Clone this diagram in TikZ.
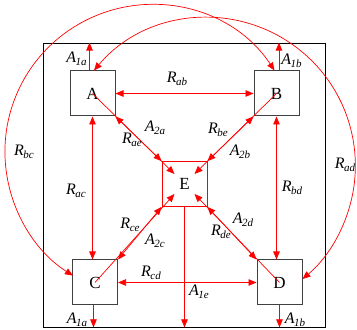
\documentclass[tikz,border=0pt]{standalone}
\usepackage{fontspec}
\setmainfont{Liberation Serif}
\usepackage{tikz}
\usetikzlibrary{arrows.meta, calc}

\newcommand{\symlab}[2]{\textit{#1}\kern-0.5pt\raisebox{-0.4ex}{\fontsize{11}{11}\selectfont\textit{#2}}}

\begin{document}
\begin{tikzpicture}[
    x=1pt, y=1pt,
    box/.style={draw=black!75, line width=1pt, minimum size=45pt, inner sep=0pt, font=\fontsize{17}{17}\selectfont},
    lbl/.style={font=\fontsize{16}{16}\selectfont, inner sep=1pt},
    arr/.style={-{Triangle[length=8pt,width=6.5pt]}, red, line width=0.7pt},
    dbl/.style={{Triangle[length=8pt,width=6.5pt]}-{Triangle[length=8pt,width=6.5pt]}, red, line width=0.7pt}
]
\useasboundingbox (0,0) rectangle (357,330);

\node[draw, line width=0.8pt, minimum width=282pt, minimum height=284pt, inner sep=0pt] (frame) at (184,145) {};

\node[box] (A) at (92.5,236.5) {A};
\node[box] (B) at (276.5,236.5) {B};
\node[box] (C) at (95,47.5) {C};
\node[box] (D) at (279.5,47.5) {D};
\node[box, draw=red, line width=0.8pt] (E) at (184.5,146) {E};

\coordinate (Aout) at ($(A.north)+(-3,0)$);
\coordinate (Bout) at ($(B.north)+(2.5,0)$);
\coordinate (Cout) at ($(C.south)+(-1.5,0)$);
\coordinate (Ain) at ($(A.north)+(1.5,0)$);
\coordinate (Bin) at ($(B.north)+(-2,0)$);

\draw[dbl] (A.east) -- (B.west);
\draw[dbl] (C.east) -- (D.west);
\draw[dbl] (A.south) -- (A.south |- C.north);
\draw[dbl] (B.south) -- (B.south |- D.north);

\draw[dbl] (A.south east) -- (E.north west);
\draw[dbl] (B.south west) -- (E.north east);
\draw[dbl] (C.north east) -- (E.south west);
\draw[dbl] (D.north west) -- (E.south east);
\draw[arr] (A.center) -- ($(E.center)+(-10,10)$);
\draw[arr] (B.center) -- ($(E.center)+(10,10)$);
\draw[arr] (C.center) -- ($(E.center)+(-10,-10)$);
\draw[arr] (D.center) -- ($(E.center)+(10,-10)$);

\draw[arr] (Aout) -- (Aout |- frame.north);
\draw[arr] (Bout) -- (Bout |- frame.north);
\draw[arr] (Cout) -- (Cout |- frame.south);
\draw[arr] (D.south) -- (D.south |- frame.south);
\draw[arr] (E.south) -- (E.south |- frame.south);

\draw[dbl] (Bin) arc[start angle=33.5, end angle=237.5, radius=147];
\draw[dbl] (Ain) arc[start angle=140, end angle=-50, radius=148];

\node[lbl] (lA1a) at (76.5,271.5) {\symlab{A}{1a}};
\node[lbl] (lA1b) at (291.5,269) {\symlab{A}{1b}};
\node[lbl] (lRab) at (177,251) {\symlab{R}{ab}};
\node[lbl] (lRae) at (132,190) {\symlab{R}{ae}};
\node[lbl] (lA2a) at (155,202) {\symlab{A}{2a}};
\node[lbl] (lRbe) at (218,200) {\symlab{R}{be}};
\node[lbl] (lA2b) at (240,178) {\symlab{A}{2b}};
\node[lbl] (lRbc) at (24,178) {\symlab{R}{bc}};
\node[lbl] (lRad) at (345,165) {\symlab{R}{ad}};
\node[lbl] (lRac) at (76,139) {\symlab{R}{ac}};
\node[lbl] (lRbd) at (292,142) {\symlab{R}{bd}};
\node[lbl] (lRce) at (130,105) {\symlab{R}{ce}};
\node[lbl] (lA2c) at (155,89) {\symlab{A}{2c}};
\node[lbl] (lA2d) at (243,110) {\symlab{A}{2d}};
\node[lbl] (lRde) at (221,98) {\symlab{R}{de}};
\node[lbl] (lRcd) at (151,57) {\symlab{R}{cd}};
\node[lbl] (lA1e) at (199,38) {\symlab{A}{1e}};
\node[lbl] (lA1c) at (77,10) {\symlab{A}{1a}};
\node[lbl] (lA1d) at (295,10) {\symlab{A}{1b}};

\end{tikzpicture}
\end{document}
